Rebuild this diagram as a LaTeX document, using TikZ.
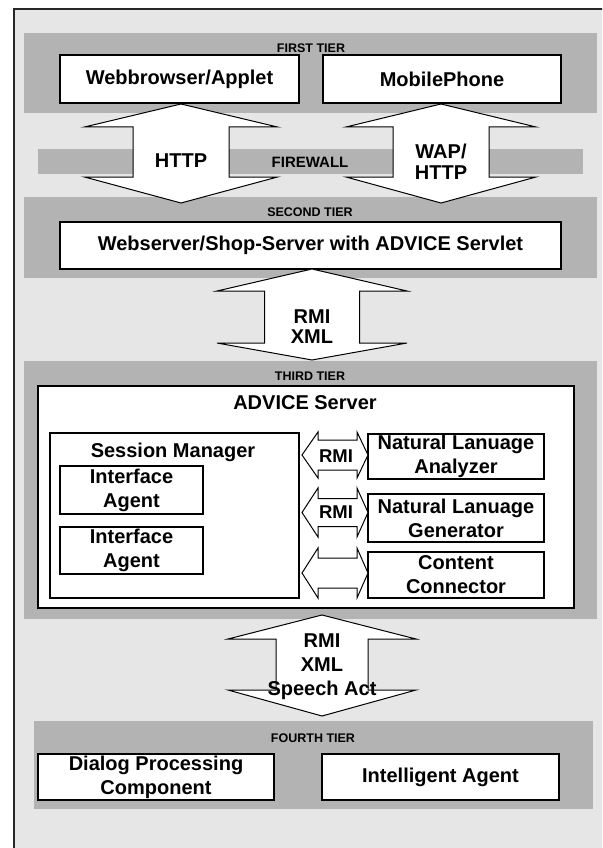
\documentclass[tikz,border=0pt]{standalone}
\usepackage{fontspec}
\setmainfont{Liberation Sans}
\definecolor{pagegray}{HTML}{E6E6E6}
\definecolor{bandgray}{HTML}{B3B3B3}
\newcommand\bigfont{\fontsize{20}{24}\selectfont\bfseries}
\newcommand\tightfont{\fontsize{20}{21}\selectfont\bfseries}
\newcommand\tierfont{\fontsize{12.5}{14}\selectfont\bfseries}
% vertical double block arrow: cx, top tip, upper wing y, lower wing y, bottom tip, wing half, shaft half
\newcommand\vdarr[7]{%
  \draw[arrowshape] (#1,#2) -- (#1+#6,#3) -- (#1+#7,#3) -- (#1+#7,#4) -- (#1+#6,#4)
    -- (#1,#5) -- (#1-#6,#4) -- (#1-#7,#4) -- (#1-#7,#3) -- (#1-#6,#3) -- cycle;}
% horizontal double block arrow: cy, left tip, left back, right back, right tip, head half, shaft half
\newcommand\hdarr[7]{%
  \draw[arrowshape] (#2,#1) -- (#3,#1-#6) -- (#3,#1-#7) -- (#4,#1-#7) -- (#4,#1-#6)
    -- (#5,#1) -- (#4,#1+#6) -- (#4,#1+#7) -- (#3,#1+#7) -- (#3,#1+#6) -- cycle;}
% box node given by its corners
\newcommand\boxat[6]{%
  \node[box, minimum width=#4pt-#2pt, minimum height=#5pt-#3pt]
    (#1) at ({(#2+#4)/2},{(#3+#5)/2}) {#6};}
\tikzset{
  band/.style={fill=bandgray, draw=none},
  box/.style={draw=black, line width=1.3pt, fill=white, inner sep=0pt,
    align=center, font=\bigfont},
  arrowshape/.style={draw=black, line width=1pt, fill=white, line join=miter},
  tierlabel/.style={font=\tierfont, inner sep=0pt},
  lbl/.style={font=\bigfont, inner sep=0pt, align=center},
}
\begin{document}
\begin{tikzpicture}[x=1pt, y=-1pt]
  \useasboundingbox (0,0) rectangle (602,848);
  \clip (0,0) rectangle (602,848);
  \fill[white] (0,0) rectangle (602,848);
  % outer frame
  \draw[line width=1.3pt, draw=black!85, fill=pagegray] (14,9) rectangle (640,880);

  % tier bands
  \fill[band] (24,33) rectangle (597,113);
  \fill[band] (38,149) rectangle (583,174);
  \fill[band] (24,197) rectangle (597,278);
  \fill[band] (24,361) rectangle (597,619);
  \fill[band] (34,721) rectangle (593,809);

  % first tier
  \node[tierlabel] (t1) at (311,48) {FIRST TIER};
  \boxat{web}{60}{55}{299}{103}{Webbrowser/Applet}
  \boxat{mobile}{323}{55}{561}{103}{MobilePhone}

  % second tier
  \node[tierlabel] (t2) at (310,212) {SECOND TIER};
  \boxat{shop}{60}{222}{561}{269}{Webserver/Shop-Server with ADVICE Servlet}

  % third tier
  \node[tierlabel] (t3) at (310,376) {THIRD TIER};
  \boxat{advice}{38}{386}{574}{608}{}
  \node[lbl] (advicelbl) at (305,403) {ADVICE Server};
  \boxat{session}{50}{433}{299}{598}{}
  \node[lbl] (sessionlbl) at (173,452) {Session Manager};
  \boxat{ia1}{60}{466}{203}{514}{Interface\\Agent}
  \boxat{ia2}{60}{527}{203}{574}{Interface\\Agent}
  \boxat{nla}{368}{434}{544}{479}{Natural Lanuage\\Analyzer}
  \boxat{nlg}{368}{494}{544}{542}{\tightfont Natural Lanuage\\Generator}
  \boxat{cc}{368}{552}{544}{598}{Content\\Connector}

  % fourth tier
  \node[tierlabel] (t4) at (313,738) {FOURTH TIER};
  \boxat{dialog}{38}{754}{274}{800}{\tightfont Dialog Processing\\Component}
  \boxat{agent}{322}{754}{559}{800}{Intelligent Agent}

  % connectors between the tiers
  \vdarr{181}{104}{127}{177}{203}{96.5}{48}
  \vdarr{441}{104}{127}{177}{203}{95}{48}
  \vdarr{312}{269}{291}{343}{360}{95}{47.5}
  \vdarr{322}{615}{639}{690}{716}{94}{46}

  % connectors inside the ADVICE server
  \hdarr{455}{302}{318}{357}{368}{23}{15}
  \hdarr{512.5}{302}{318}{357}{368}{24.5}{14}
  \hdarr{573}{302}{318}{357}{368}{25}{15}

  % connector labels
  \node[lbl] (http) at (181,161) {HTTP};
  \node[lbl, font=\tightfont] (wap) at (441,162) {WAP/\\HTTP};
  \node[font=\fontsize{15}{17}\selectfont\bfseries, inner sep=0pt] (fw) at (310,162) {FIREWALL};
  \node[lbl, font=\fontsize{20}{20}\selectfont\bfseries] (rmixml) at (312,327) {RMI\\XML};
  \node[lbl, font=\fontsize{20}{24}\selectfont\bfseries] (speech) at (322,667) {RMI\\XML\\Speech Act};
  \node[lbl, font=\fontsize{18.5}{20}\selectfont\bfseries] (rmi1) at (336,456) {RMI};
  \node[lbl, font=\fontsize{18.5}{20}\selectfont\bfseries] (rmi2) at (336,512) {RMI};
\end{tikzpicture}
\end{document}
